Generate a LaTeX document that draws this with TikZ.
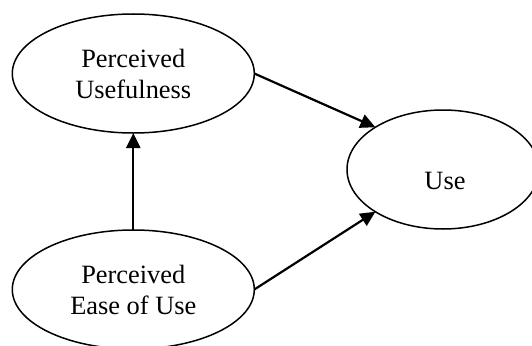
\documentclass[tikz,border=0pt]{standalone}
\usepackage{fontspec}
\setmainfont{Liberation Serif}
\usetikzlibrary{shapes.geometric,arrows.meta}
\begin{document}
\begin{tikzpicture}[x=1pt,y=-1pt,
  oval/.style={ellipse,draw,line width=1.5pt,inner sep=0pt,outer sep=0pt,
    align=center,font=\fontsize{26.4}{31}\selectfont},
  lbl/.style={inner sep=0pt,font=\fontsize{26.4}{31}\selectfont},
  conn/.style={line width=2.2pt,-{Triangle[length=15pt,width=14pt]}}]
\useasboundingbox (0,0) rectangle (532,345);
\begin{scope}
\clip (0,0) rectangle (532,345);
\node[oval,minimum width=242pt,minimum height=119pt] (pu) at (133.3,73.5) {Perceived\\Usefulness};
\node[oval,minimum width=242pt,minimum height=119pt] (peou) at (133.3,289.5) {Perceived\\Ease of Use};
\node[oval,minimum width=192pt,minimum height=119pt] (use) at (443,169.5) {};
\node[lbl] (uselbl) at (445,181) {Use};
\end{scope}
\draw[conn] (pu.east) -- (use.148);
\draw[conn] (peou.east) -- (use.212);
\draw[conn] (peou.north) -- (pu.south);
\end{tikzpicture}
\end{document}
